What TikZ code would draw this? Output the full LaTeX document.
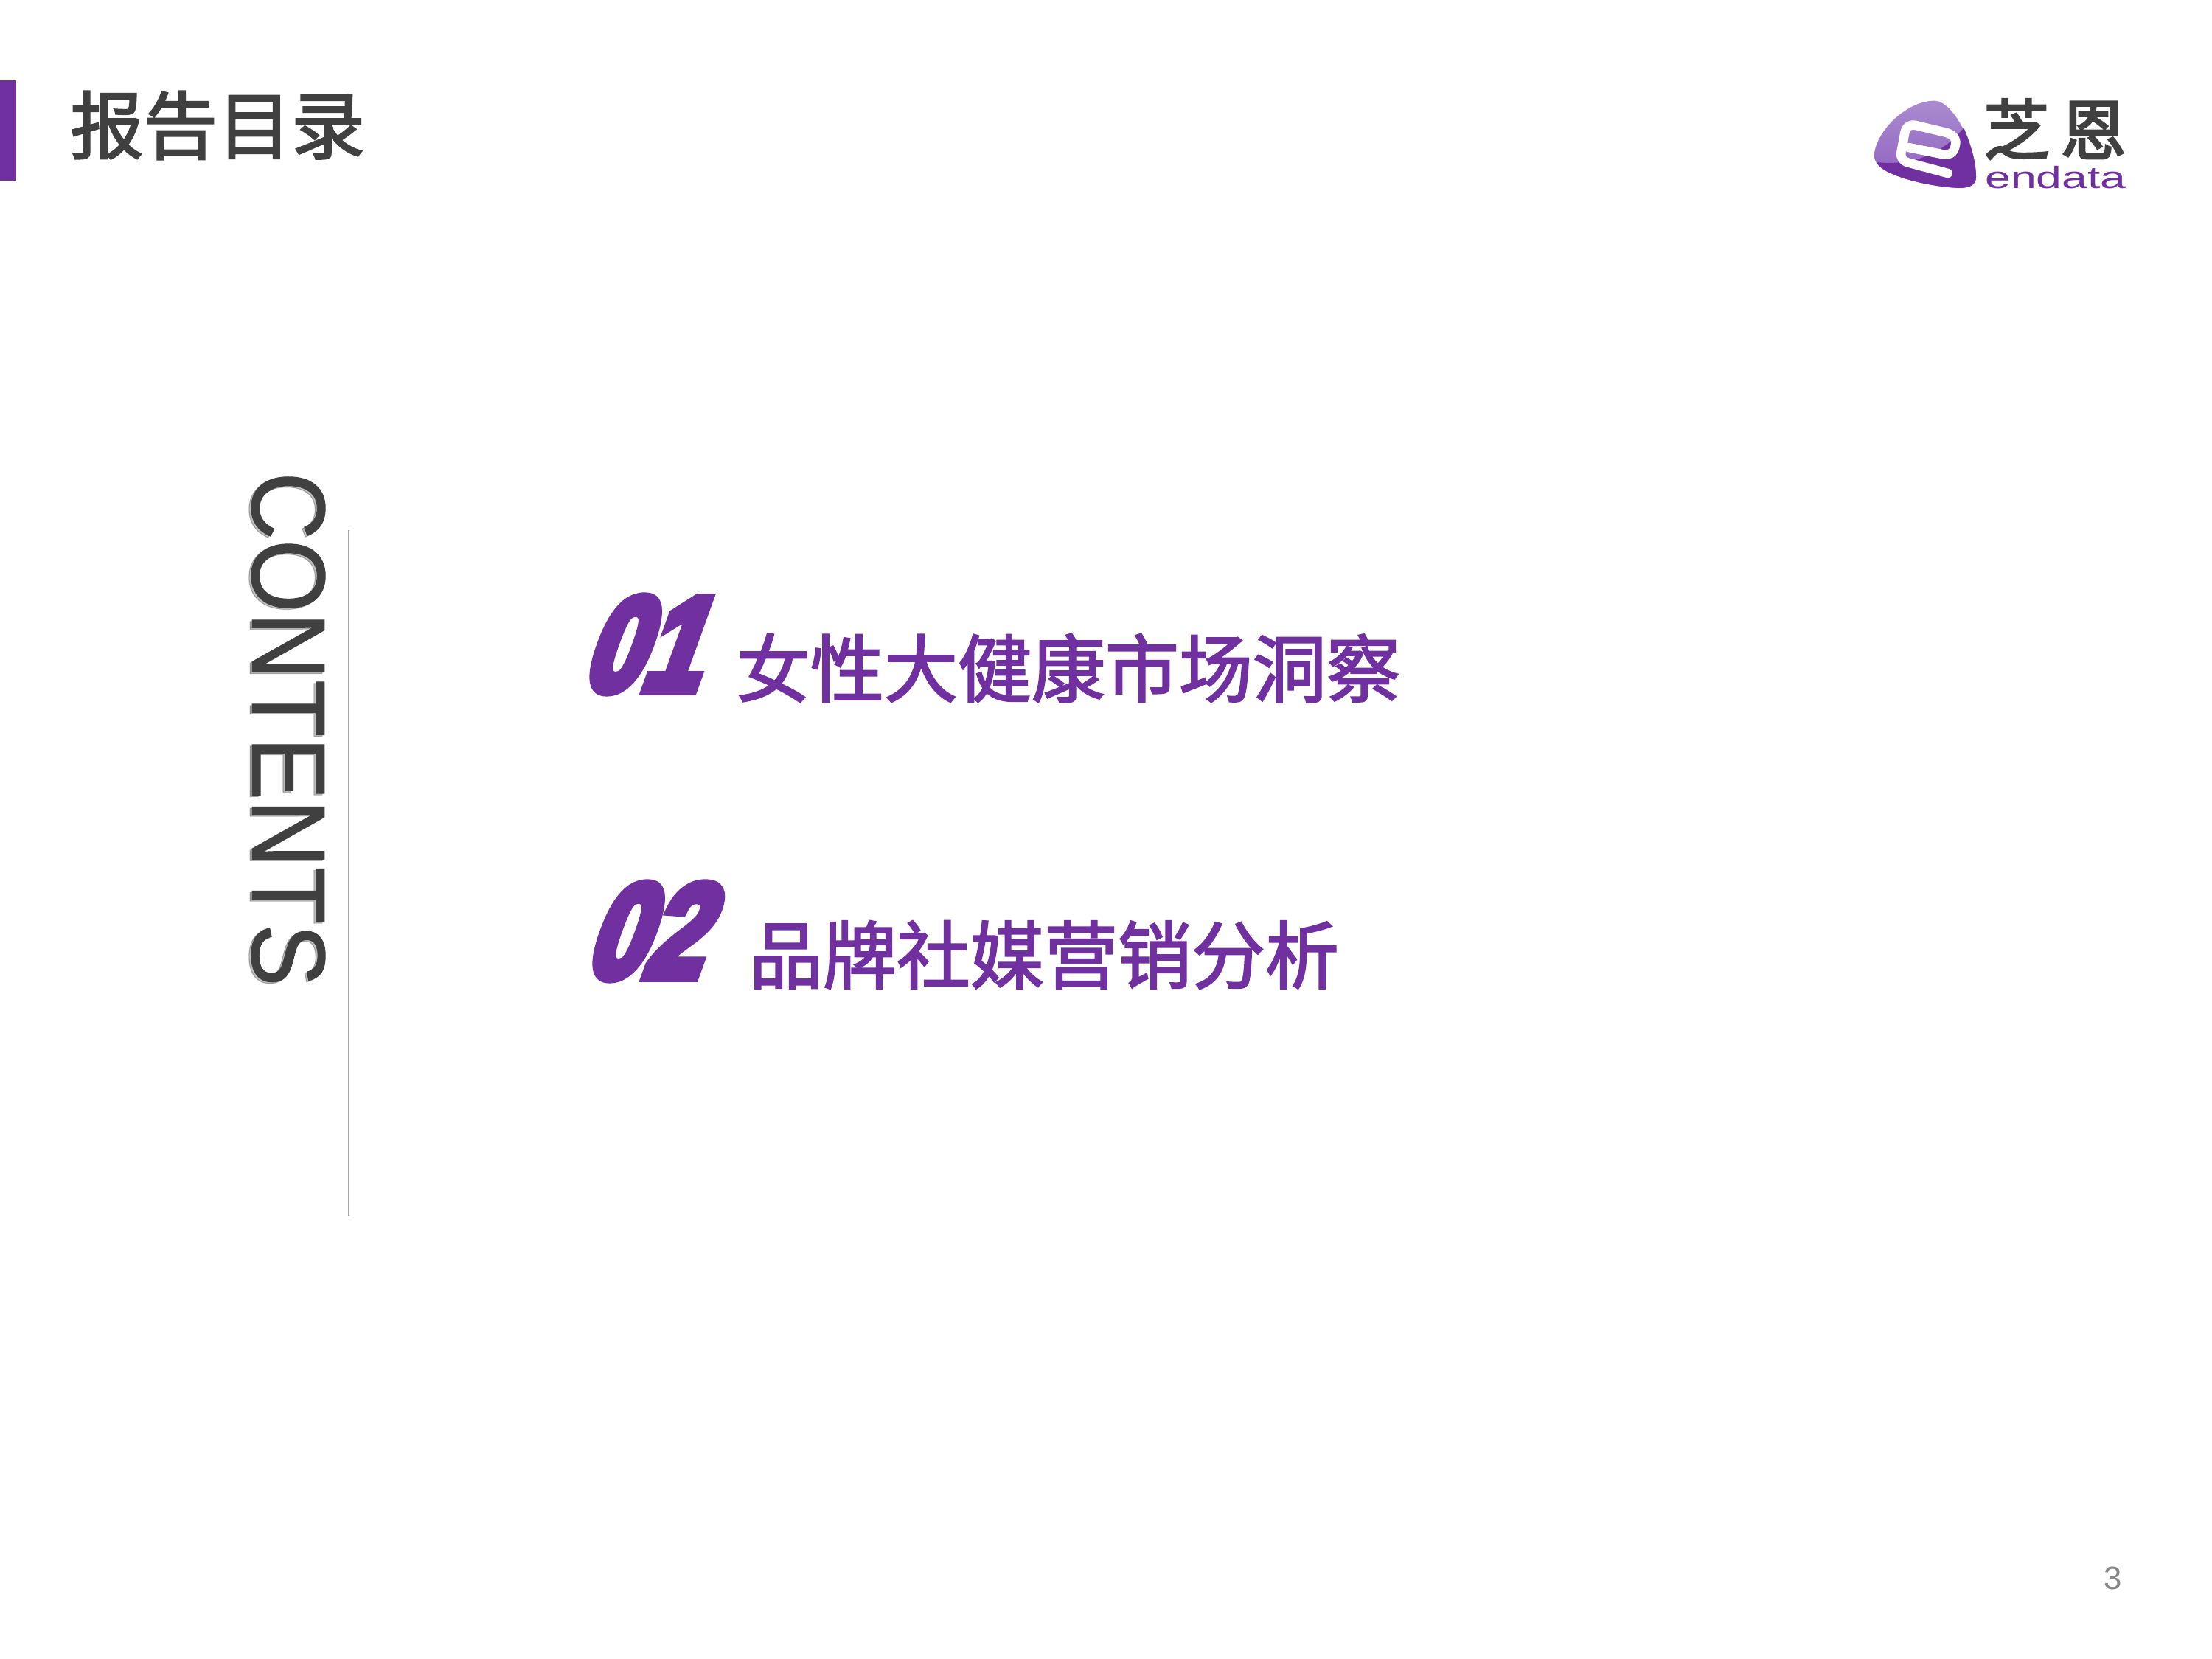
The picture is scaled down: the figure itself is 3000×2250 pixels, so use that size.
\documentclass[tikz,border=0pt]{standalone}
\usepackage{fontspec}
\usetikzlibrary{positioning}
\setmainfont{Liberation Sans}
\newfontfamily\cjk[FakeBold=2.2]{Noto Sans CJK SC}
\newfontfamily\cjklogo[FakeBold=3]{Noto Sans CJK SC}
\newfontfamily\numfont[FakeBold=8]{Liberation Sans Bold}
\newfontfamily\contfont[FakeBold=.8]{Liberation Sans}
\definecolor{endpurple}{HTML}{7030A0}
\definecolor{endlight}{HTML}{A98BCF}
\definecolor{endmid}{HTML}{8F5FC0}
\definecolor{endgray}{HTML}{404040}
\definecolor{rulegray}{HTML}{A6A6A6}
\tikzset{
  itemtext/.style={inner sep=0, text=endpurple, font=\cjk\fontsize{24}{24}\selectfont},
  itemnum/.style={inner sep=0, text=endpurple, font=\numfont\fontsize{43}{43}\selectfont,
    xslant=.36, xscale=.79, transform shape},
  contents/.style={inner sep=0, rotate=-90, xscale=.895, font=\contfont\fontsize{34}{34}\selectfont}
}
\begin{document}
\begin{tikzpicture}[x=.24pt,y=-.24pt]
  \useasboundingbox (0,0) rectangle (3000,2250);
  % header
  \path[fill=endpurple] (0,109) rectangle (22,245);
  \node[inner sep=0, text=endgray, font=\cjk\fontsize{24}{24}\selectfont] (title) at (295,170) {报告目录};
  % contents
  \coordinate (ruletop) at (473,719);
  \coordinate (rulebot) at (473,1649);
  \draw[rulegray, line width=.7pt] (ruletop) -- (rulebot);
  \node[contents, text=black, opacity=.25] (contshadow) at (388,991) {CONTENTS};
  \node[contents, text=endgray] (cont) at (391,989) {CONTENTS};
  % items
  \node[itemnum] (num1) at (888,874) {01};
  \node[itemtext] (item1) at (1449,906) {女性大健康市场洞察};
  \node[itemnum] (num2) at (892,1263) {02};
  \node[itemtext] (item2) at (1416,1295) {品牌社媒营销分析};
  % logo
  \begin{scope}[shift={(2500,100)},x=.08pt,y=-.08pt]
    \path[top color=endlight, bottom color=endmid]
      (125,330) .. controls (135,230) and (260,110) .. (370,110)
      .. controls (450,110) and (540,300) .. (540,420)
      .. controls (540,455) and (510,465) .. (470,465)
      .. controls (350,460) and (190,420) .. (145,375)
      .. controls (130,360) and (125,345) .. (125,330) -- cycle;
    \path[fill=endpurple]
      (135,360) .. controls (280,375) and (400,330) .. (490,220)
      .. controls (520,290) and (540,360) .. (540,420)
      .. controls (540,455) and (510,465) .. (470,465)
      .. controls (350,460) and (190,420) .. (145,375) -- cycle;
    \draw[white, line width=3pt, line join=round, line cap=round]
      (425,405) -- (265,362) .. controls (240,355) and (232,340) .. (235,320)
      -- (250,240) .. controls (256,215) and (270,205) .. (295,210)
      -- (420,240) .. controls (455,250) and (462,275) .. (455,295)
      .. controls (448,325) and (430,332) .. (405,328) -- (265,300);
  \end{scope}
  \node[inner sep=0, text=endgray, font=\cjklogo\fontsize{21.5}{21.5}\selectfont] (logocn) at (2787,175) {芝\hspace{3.5pt}恩};
  \node[inner sep=0, text=endpurple, xscale=1.5, font=\fontsize{10}{10}\selectfont] (logoen) at (2788,241) {endata};
  % page number
  \node[inner sep=0, text=gray!95, font=\fontsize{10.5}{10.5}\selectfont] (pagenum) at (2866,2140) {3};
\end{tikzpicture}
\end{document}
